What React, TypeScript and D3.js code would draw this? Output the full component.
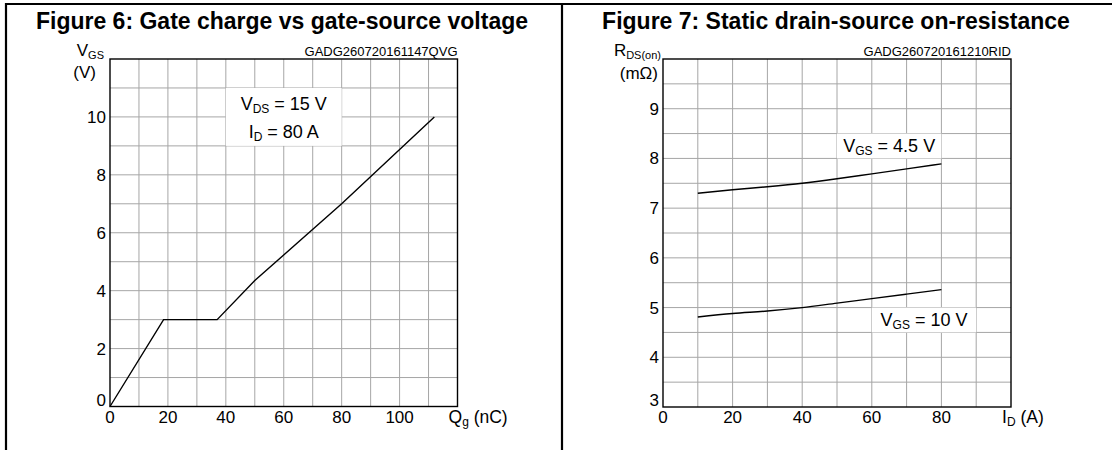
import React, { useRef, useEffect } from 'react';
import * as d3 from 'd3';

// Figure 6: gate charge curve
const fig6Charge = [0, 18.5, 37, 50, 80, 112];
const fig6Vgs = [0, 3, 3, 4.35, 7.0, 10];
const fig6XTicks = [0, 20, 40, 60, 80, 100];
const fig6YTicks = [0, 2, 4, 6, 8, 10];

// Figure 7: on-resistance vs drain current
const fig7Current = [10, 20, 30, 40, 50, 60, 70, 80];
const fig7Rds45 = [7.3, 7.37, 7.43, 7.5, 7.59, 7.69, 7.79, 7.89];
const fig7Rds10 = [4.81, 4.88, 4.93, 5.0, 5.09, 5.18, 5.27, 5.36];
const fig7XTicks = [0, 20, 40, 60, 80];
const fig7YTicks = [3, 4, 5, 6, 7, 8, 9];

const FONT = "'Liberation Sans', Arial, Helvetica, sans-serif";

type Part = [string, boolean];

// append text made of normal / subscript pieces
const rich = (sel: any, parts: Part[], subSize: number, shift = 3) => {
  let down = false;
  parts.forEach(([t, sub]) => {
    const ts = sel.append('tspan').text(t);
    if (sub) {
      ts.attr('font-size', subSize);
      if (!down) { ts.attr('dy', shift); down = true; }
    } else if (down) {
      ts.attr('dy', -shift);
      down = false;
    }
  });
};

interface PanelOpts {
  left: number;
  top: number;
  size: number;
  xDomain: [number, number];
  yDomain: [number, number];
  xStep: number;
  yStep: number;
  xTicks: number[];
  yTicks: number[];
  xTitle: Part[];
  code: string;
}

const drawPanel = (svg: any, o: PanelOpts) => {
  const x = d3.scaleLinear().domain(o.xDomain).range([o.left, o.left + o.size]);
  const y = d3.scaleLinear().domain(o.yDomain).range([o.top + o.size, o.top]);

  const grid = svg.append('g').attr('stroke', '#a6a6a6').attr('stroke-width', 1);
  grid.selectAll('.vx')
    .data(d3.range(o.xDomain[0] + o.xStep, o.xDomain[1], o.xStep))
    .enter().append('line')
    .attr('x1', (d: number) => x(d)).attr('x2', (d: number) => x(d))
    .attr('y1', y(o.yDomain[0])).attr('y2', y(o.yDomain[1]));
  grid.selectAll('.hy')
    .data(d3.range(o.yDomain[0] + o.yStep, o.yDomain[1] - 1e-6, o.yStep))
    .enter().append('line')
    .attr('y1', (d: number) => y(d)).attr('y2', (d: number) => y(d))
    .attr('x1', x(o.xDomain[0])).attr('x2', x(o.xDomain[1]));

  svg.append('rect')
    .attr('x', o.left).attr('y', o.top)
    .attr('width', o.size).attr('height', o.size)
    .attr('fill', 'none').attr('stroke', '#000').attr('stroke-width', 1.4);

  // tick labels
  svg.append('g').selectAll('text')
    .data(o.xTicks).enter().append('text')
    .attr('x', (d: number) => x(d)).attr('y', y(o.yDomain[0]) + 16)
    .attr('text-anchor', 'middle').attr('font-size', 17)
    .text((d: number) => d);
  svg.append('g').selectAll('text')
    .data(o.yTicks).enter().append('text')
    .attr('x', o.left - 4)
    .attr('y', (d: number) => (d === o.yDomain[0] ? y(d) - 1 : y(d) + 6))
    .attr('text-anchor', 'end').attr('font-size', 17)
    .text((d: number) => d);

  const xt = svg.append('text')
    .attr('x', x(o.xDomain[1]) - 9).attr('y', y(o.yDomain[0]) + 16)
    .attr('font-size', 17.5);
  rich(xt, o.xTitle, 12);

  svg.append('text')
    .attr('x', o.left + o.size).attr('y', o.top - 3)
    .attr('text-anchor', 'end').attr('font-size', 13)
    .text(o.code);

  return { x, y };
};

const App: React.FC = () => {
  const ref = useRef<SVGSVGElement>(null);

  useEffect(() => {
    if (!ref.current) return;
    const svg = d3.select(ref.current);
    svg.selectAll('*').remove();

    // outer frame
    const frame = svg.append('g').attr('stroke', '#000').attr('stroke-width', 2.2);
    frame.append('line').attr('x1', 5).attr('x2', 1112).attr('y1', 4).attr('y2', 4);
    frame.append('line').attr('x1', 6).attr('x2', 6).attr('y1', 3).attr('y2', 450);
    frame.append('line').attr('x1', 562).attr('x2', 562).attr('y1', 3).attr('y2', 450);

    svg.append('text')
      .attr('x', 282).attr('y', 29).attr('text-anchor', 'middle')
      .attr('font-size', 23).attr('font-weight', 'bold')
      .text('Figure 6: Gate charge vs gate-source voltage');
    svg.append('text')
      .attr('x', 836).attr('y', 29).attr('text-anchor', 'middle')
      .attr('font-size', 23).attr('font-weight', 'bold')
      .text('Figure 7: Static drain-source on-resistance');

    // ---------- Figure 6 ----------
    const p6 = drawPanel(svg, {
      left: 110, top: 59, size: 347.5,
      xDomain: [0, 120], yDomain: [0, 12], xStep: 10, yStep: 1,
      xTicks: fig6XTicks, yTicks: fig6YTicks,
      xTitle: [['Q', false], ['g', true], [' (nC)', false]],
      code: 'GADG260720161147QVG',
    });

    const t6a = svg.append('text').attr('x', 104).attr('y', 56).attr('text-anchor', 'end').attr('font-size', 17);
    rich(t6a, [['V', false], ['GS', true]], 11);
    svg.append('text').attr('x', 96).attr('y', 78).attr('text-anchor', 'end').attr('font-size', 17).text('(V)');

    svg.append('rect')
      .attr('x', p6.x(40)).attr('y', p6.y(11))
      .attr('width', p6.x(80) - p6.x(40)).attr('height', p6.y(9) - p6.y(11))
      .attr('fill', '#fff');
    const a1 = svg.append('text').attr('x', p6.x(60)).attr('y', 110).attr('text-anchor', 'middle').attr('font-size', 18);
    rich(a1, [['V', false], ['DS', true], [' = 15 V', false]], 12);
    const a2 = svg.append('text').attr('x', p6.x(60)).attr('y', 138).attr('text-anchor', 'middle').attr('font-size', 18);
    rich(a2, [['I', false], ['D', true], [' = 80 A', false]], 12);

    const line6 = d3.line<number>()
      .x((_, i) => p6.x(fig6Charge[i]))
      .y((d) => p6.y(d));
    svg.append('path')
      .datum(fig6Vgs)
      .attr('d', line6)
      .attr('fill', 'none').attr('stroke', '#000').attr('stroke-width', 1.4);

    // ---------- Figure 7 ----------
    const p7 = drawPanel(svg, {
      left: 663, top: 59, size: 348,
      xDomain: [0, 100], yDomain: [3, 10], xStep: 10, yStep: 0.5,
      xTicks: fig7XTicks, yTicks: fig7YTicks,
      xTitle: [['I', false], ['D', true], [' (A)', false]],
      code: 'GADG260720161210RID',
    });

    const t7a = svg.append('text').attr('x', 661).attr('y', 56).attr('text-anchor', 'end').attr('font-size', 17);
    rich(t7a, [['R', false], ['DS(on)', true]], 11);
    svg.append('text').attr('x', 658).attr('y', 79).attr('text-anchor', 'end').attr('font-size', 17).text('(mΩ)');

    const line7 = d3.line<number>()
      .x((_, i) => p7.x(fig7Current[i]))
      .y((d) => p7.y(d))
      .curve(d3.curveMonotoneX);
    [fig7Rds45, fig7Rds10].forEach((s) => {
      svg.append('path')
        .datum(s)
        .attr('d', line7)
        .attr('fill', 'none').attr('stroke', '#000').attr('stroke-width', 1.4);
    });

    svg.append('rect')
      .attr('x', p7.x(50)).attr('y', p7.y(8.5))
      .attr('width', p7.x(80) - p7.x(50)).attr('height', p7.y(8) - p7.y(8.5))
      .attr('fill', '#fff');
    const b1 = svg.append('text').attr('x', p7.x(65)).attr('y', 152).attr('text-anchor', 'middle').attr('font-size', 18);
    rich(b1, [['V', false], ['GS', true], [' = 4.5 V', false]], 12);

    svg.append('rect')
      .attr('x', p7.x(60)).attr('y', p7.y(5))
      .attr('width', p7.x(90) - p7.x(60)).attr('height', p7.y(4.5) - p7.y(5))
      .attr('fill', '#fff');
    const b2 = svg.append('text').attr('x', p7.x(75)).attr('y', 326).attr('text-anchor', 'middle').attr('font-size', 18);
    rich(b2, [['V', false], ['GS', true], [' = 10 V', false]], 12);
  }, []);

  return (
    <svg
      ref={ref}
      width={1112}
      height={450}
      style={{ position: 'absolute', left: 0, top: 0, fontFamily: FONT, whiteSpace: 'pre' }}
      fill="#000"
    />
  );
};

export default App;
